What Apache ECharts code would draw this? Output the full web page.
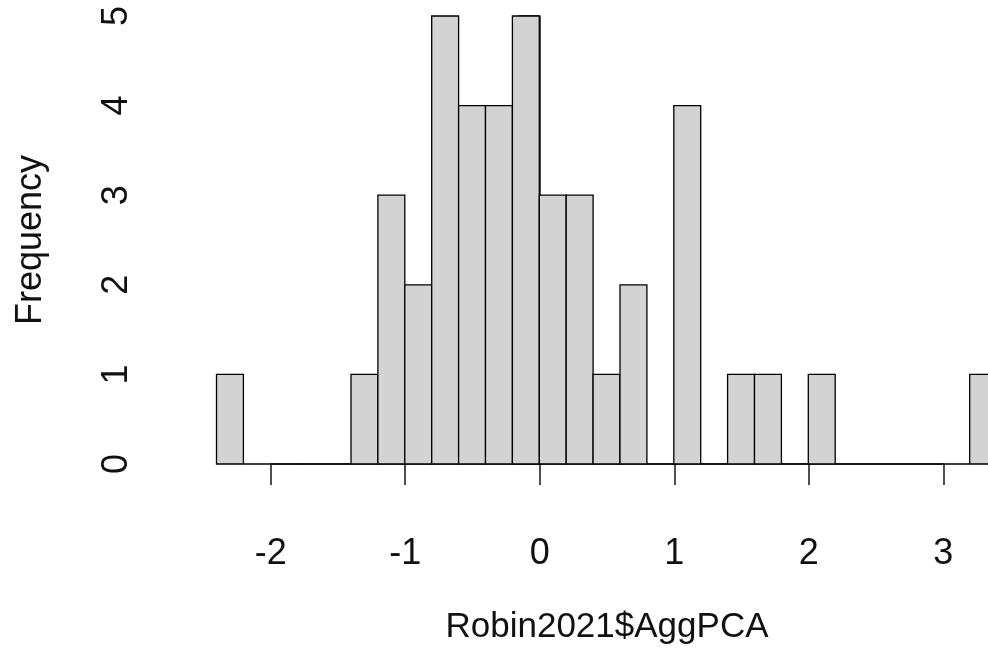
<!DOCTYPE html>
<html>
<head>
<meta charset="utf-8">
<script src="https://cdn.jsdelivr.net/npm/echarts@6/dist/echarts.min.js"></script>
<style>
  html, body { margin: 0; padding: 0; background: #fff; }
  #main { width: 988px; height: 664px; }
</style>
</head>
<body>
<div id="main"></div>
<script>
// histogram of Robin2021$AggPCA, bins of width 0.2
var breaks = [-2.4, -2.2, -2.0, -1.8, -1.6, -1.4, -1.2, -1.0, -0.8, -0.6, -0.4, -0.2,
    0.0, 0.2, 0.4, 0.6, 0.8, 1.0, 1.2, 1.4, 1.6, 1.8, 2.0, 2.2, 2.4, 2.6, 2.8, 3.0, 3.2, 3.4];
var counts = [1, 0, 0, 0, 0, 1, 3, 2, 5, 4, 4, 5, 3, 3, 1, 2, 0, 4, 0, 1, 1, 0, 1, 0, 0, 0, 0, 0, 1];
var xTicks = [-2, -1, 0, 1, 2, 3];
var yTicks = [0, 1, 2, 3, 4, 5];

var bins = [];
for (var i = 0; i < counts.length; i++) {
    bins.push([breaks[i], breaks[i + 1], counts[i]]);
}

var font = '"Liberation Sans", Arial, Helvetica, sans-serif';
var axisLine = { show: true, lineStyle: { color: '#222', width: 1.6 } };
var axisTick = { show: true, length: 21, lineStyle: { color: '#222', width: 1.6 } };

function renderBin(params, api) {
    var p0 = api.coord([api.value(0), 0]);
    var p1 = api.coord([api.value(1), api.value(2)]);
    return {
        type: 'rect',
        shape: { x: p0[0], y: p1[1], width: p1[0] - p0[0], height: p0[1] - p1[1] },
        style: { fill: '#d3d3d3', stroke: '#000', lineWidth: 1.3 }
    };
}

var chart = echarts.init(document.getElementById('main'));
chart.setOption({
    animation: false,
    backgroundColor: '#fff',
    textStyle: { fontFamily: font },
    grid: [
        { left: 216.5, right: -8.6, top: 16, bottom: 200, outerBoundsMode: 'none' },
        { left: 270.7, right: 44.7, top: 16, bottom: 200, outerBoundsMode: 'none' }
    ],
    xAxis: [{
        gridIndex: 0,
        type: 'value',
        min: breaks[0],
        max: breaks[breaks.length - 1],
        show: false
    }, {
        gridIndex: 1,
        type: 'value',
        min: xTicks[0],
        max: xTicks[xTicks.length - 1],
        interval: 1,
        offset: 18,
        axisLine: axisLine,
        axisTick: axisTick,
        splitLine: { show: false },
        axisLabel: { color: '#111', fontSize: 36, fontFamily: font, margin: 54 },
        name: 'Robin2021$AggPCA',
        nameLocation: 'middle',
        nameGap: 128,
        nameTextStyle: { color: '#111', fontSize: 35, fontFamily: font }
    }],
    yAxis: [{
        gridIndex: 0,
        type: 'value',
        min: yTicks[0],
        max: yTicks[yTicks.length - 1],
        interval: 1,
        offset: 33,
        axisLine: axisLine,
        axisTick: axisTick,
        splitLine: { show: false },
        axisLabel: { color: '#111', fontSize: 36, fontFamily: font, rotate: 90, margin: 48 },
        name: 'Frequency',
        nameLocation: 'middle',
        nameGap: 134,
        nameTextStyle: { color: '#111', fontSize: 36, fontFamily: font }
    }, {
        gridIndex: 1,
        type: 'value',
        min: 0,
        max: 5,
        show: false
    }],
    series: [{
        type: 'custom',
        xAxisIndex: 0,
        yAxisIndex: 0,
        renderItem: renderBin,
        encode: { x: [0, 1], y: 2 },
        data: bins
    }]
});
</script>
</body>
</html>
